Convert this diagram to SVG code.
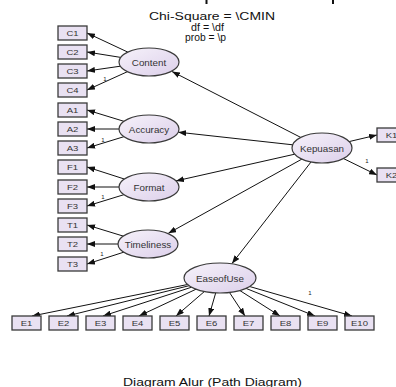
<svg xmlns="http://www.w3.org/2000/svg" width="396" height="387" viewBox="0 0 396 387">
<style>
.box{fill:#e9e1f2;stroke:#3a3a3a;stroke-width:1.3}
.lat{fill:url(#lg);stroke:#3a3a3a;stroke-width:1.2}
.bl{font-family:"Liberation Sans",Arial,sans-serif;font-size:7.5px;fill:#333;text-anchor:middle}
.ll{font-family:"Liberation Sans",Arial,sans-serif;font-size:9.8px;fill:#333;text-anchor:middle}
.one{font-family:"Liberation Sans",Arial,sans-serif;font-size:6px;fill:#222;text-anchor:middle}
.hd{font-family:"Liberation Sans",Arial,sans-serif;font-size:10px;fill:#111}
.cn line{stroke:#111;stroke-width:1;marker-end:url(#ah)}
</style>
<defs>
<linearGradient id="lg" x1="0" y1="0" x2="1" y2="1">
<stop offset="0" stop-color="#f6f2fa"/>
<stop offset="1" stop-color="#dccfea"/>
</linearGradient>
<marker id="ah" viewBox="0 0 8 6" refX="8" refY="3" markerWidth="8" markerHeight="6" markerUnits="userSpaceOnUse" orient="auto">
<path d="M0,0 L8,3 L0,6 z" fill="#111"/>
</marker>
</defs>
<rect width="396" height="387" fill="#fff"/>
<rect x="205.5" y="0" width="2" height="4" fill="#111"/>
<rect x="332" y="0" width="2" height="4" fill="#111"/>
<g id="header">
<text class="hd" x="149" y="20" textLength="126" lengthAdjust="spacingAndGlyphs">Chi-Square = \CMIN</text>
<text class="hd" x="191" y="30.5" textLength="33" lengthAdjust="spacingAndGlyphs">df = \df</text>
<text class="hd" x="185" y="40.5" textLength="41" lengthAdjust="spacingAndGlyphs">prob = \p</text>
</g>
<g id="connectors" class="cn">
<line x1="127.8" y1="52.1" x2="87" y2="33"/>
<line x1="120.7" y1="57.4" x2="87" y2="52"/>
<line x1="120.4" y1="66.2" x2="87" y2="71"/>
<line x1="127.4" y1="71.7" x2="87" y2="90"/>
<line x1="123.9" y1="121.3" x2="87" y2="110"/>
<line x1="119" y1="129" x2="87" y2="129"/>
<line x1="123.9" y1="136.7" x2="87" y2="148"/>
<line x1="124.3" y1="179" x2="87" y2="167"/>
<line x1="119" y1="187" x2="87" y2="187"/>
<line x1="123.9" y1="194.7" x2="87" y2="206"/>
<line x1="123.9" y1="236.3" x2="87" y2="225"/>
<line x1="119" y1="244" x2="87" y2="244"/>
<line x1="124.3" y1="252" x2="87" y2="264"/>
<line x1="300.7" y1="137.4" x2="172" y2="71.5"/>
<line x1="292.7" y1="144.8" x2="178.2" y2="132.2"/>
<line x1="294.7" y1="154.2" x2="176" y2="180.9"/>
<line x1="301.9" y1="159.1" x2="168.3" y2="233.3"/>
<line x1="311" y1="162" x2="232" y2="263.5"/>
<line x1="349.1" y1="141.6" x2="377" y2="135"/>
<line x1="343.4" y1="158.5" x2="377" y2="175"/>
<line x1="187.6" y1="284.5" x2="32" y2="316"/>
<line x1="189.1" y1="285.7" x2="67" y2="316"/>
<line x1="191.6" y1="287.2" x2="103" y2="316"/>
<line x1="196.1" y1="289.2" x2="139" y2="316"/>
<line x1="204.4" y1="291.5" x2="176" y2="316"/>
<line x1="215.7" y1="292.9" x2="209" y2="316"/>
<line x1="229.5" y1="292.5" x2="245" y2="316"/>
<line x1="239.8" y1="290.5" x2="280" y2="316"/>
<line x1="246" y1="288.4" x2="315" y2="316"/>
<line x1="249.6" y1="286.5" x2="352" y2="316"/>
<text class="one" x="105" y="81">1</text>
<text class="one" x="103" y="142">1</text>
<text class="one" x="103" y="199">1</text>
<text class="one" x="102" y="256">1</text>
<text class="one" x="367" y="162.5">1</text>
<text class="one" x="310" y="295">1</text>
</g>
<g id="Content"><ellipse class="lat" cx="149" cy="62" rx="30" ry="14"/><text class="ll" x="149" y="65.5">Content</text></g>
<g id="Accuracy"><ellipse class="lat" cx="149" cy="129" rx="30" ry="14"/><text class="ll" x="149" y="132.5">Accuracy</text></g>
<g id="Format"><ellipse class="lat" cx="149" cy="187" rx="30" ry="14"/><text class="ll" x="149" y="190.5">Format</text></g>
<g id="Timeliness"><ellipse class="lat" cx="148" cy="244" rx="30" ry="14"/><text class="ll" x="148" y="247.5">Timeliness</text></g>
<g id="Kepuasan"><ellipse class="lat" cx="322" cy="148" rx="30" ry="15"/><text class="ll" x="322" y="151.5">Kepuasan</text></g>
<g id="EaseofUse"><ellipse class="lat" cx="220" cy="278" rx="36" ry="15"/><text class="ll" x="220" y="281.5">EaseofUse</text></g>
<g id="C1"><rect class="box" x="58" y="26" width="29" height="14"/><text class="bl" transform="translate(72.5,35.7) scale(1.27,1)">C1</text></g>
<g id="C2"><rect class="box" x="58" y="45" width="29" height="14"/><text class="bl" transform="translate(72.5,54.7) scale(1.27,1)">C2</text></g>
<g id="C3"><rect class="box" x="58" y="64" width="29" height="14"/><text class="bl" transform="translate(72.5,73.7) scale(1.27,1)">C3</text></g>
<g id="C4"><rect class="box" x="58" y="83" width="29" height="14"/><text class="bl" transform="translate(72.5,92.7) scale(1.27,1)">C4</text></g>
<g id="A1"><rect class="box" x="58" y="103" width="29" height="14"/><text class="bl" transform="translate(72.5,112.7) scale(1.27,1)">A1</text></g>
<g id="A2"><rect class="box" x="58" y="122" width="29" height="14"/><text class="bl" transform="translate(72.5,131.7) scale(1.27,1)">A2</text></g>
<g id="A3"><rect class="box" x="58" y="141" width="29" height="14"/><text class="bl" transform="translate(72.5,150.7) scale(1.27,1)">A3</text></g>
<g id="F1"><rect class="box" x="58" y="160" width="29" height="14"/><text class="bl" transform="translate(72.5,169.7) scale(1.27,1)">F1</text></g>
<g id="F2"><rect class="box" x="58" y="180" width="29" height="14"/><text class="bl" transform="translate(72.5,189.7) scale(1.27,1)">F2</text></g>
<g id="F3"><rect class="box" x="58" y="199" width="29" height="14"/><text class="bl" transform="translate(72.5,208.7) scale(1.27,1)">F3</text></g>
<g id="T1"><rect class="box" x="58" y="218" width="29" height="14"/><text class="bl" transform="translate(72.5,227.7) scale(1.27,1)">T1</text></g>
<g id="T2"><rect class="box" x="58" y="237" width="29" height="14"/><text class="bl" transform="translate(72.5,246.7) scale(1.27,1)">T2</text></g>
<g id="T3"><rect class="box" x="58" y="257" width="29" height="14"/><text class="bl" transform="translate(72.5,266.7) scale(1.27,1)">T3</text></g>
<g id="K1"><rect class="box" x="377" y="128" width="29" height="14"/><text class="bl" transform="translate(391.5,137.7) scale(1.27,1)">K1</text></g>
<g id="K2"><rect class="box" x="377" y="168" width="29" height="14"/><text class="bl" transform="translate(391.5,177.7) scale(1.27,1)">K2</text></g>
<g id="E1"><rect class="box" x="12" y="316" width="29" height="14"/><text class="bl" transform="translate(26.5,325.7) scale(1.27,1)">E1</text></g>
<g id="E2"><rect class="box" x="49" y="316" width="29" height="14"/><text class="bl" transform="translate(63.5,325.7) scale(1.27,1)">E2</text></g>
<g id="E3"><rect class="box" x="86" y="316" width="29" height="14"/><text class="bl" transform="translate(100.5,325.7) scale(1.27,1)">E3</text></g>
<g id="E4"><rect class="box" x="123" y="316" width="29" height="14"/><text class="bl" transform="translate(137.5,325.7) scale(1.27,1)">E4</text></g>
<g id="E5"><rect class="box" x="160" y="316" width="29" height="14"/><text class="bl" transform="translate(174.5,325.7) scale(1.27,1)">E5</text></g>
<g id="E6"><rect class="box" x="197" y="316" width="29" height="14"/><text class="bl" transform="translate(211.5,325.7) scale(1.27,1)">E6</text></g>
<g id="E7"><rect class="box" x="234" y="316" width="29" height="14"/><text class="bl" transform="translate(248.5,325.7) scale(1.27,1)">E7</text></g>
<g id="E8"><rect class="box" x="271" y="316" width="29" height="14"/><text class="bl" transform="translate(285.5,325.7) scale(1.27,1)">E8</text></g>
<g id="E9"><rect class="box" x="308" y="316" width="29" height="14"/><text class="bl" transform="translate(322.5,325.7) scale(1.27,1)">E9</text></g>
<g id="E10"><rect class="box" x="345" y="316" width="29" height="14"/><text class="bl" transform="translate(359.5,325.7) scale(1.27,1)">E10</text></g>
<g id="title"><text class="hd" x="123" y="386" font-size="11" textLength="179" lengthAdjust="spacingAndGlyphs">Diagram Alur (Path Diagram)</text></g>
</svg>
